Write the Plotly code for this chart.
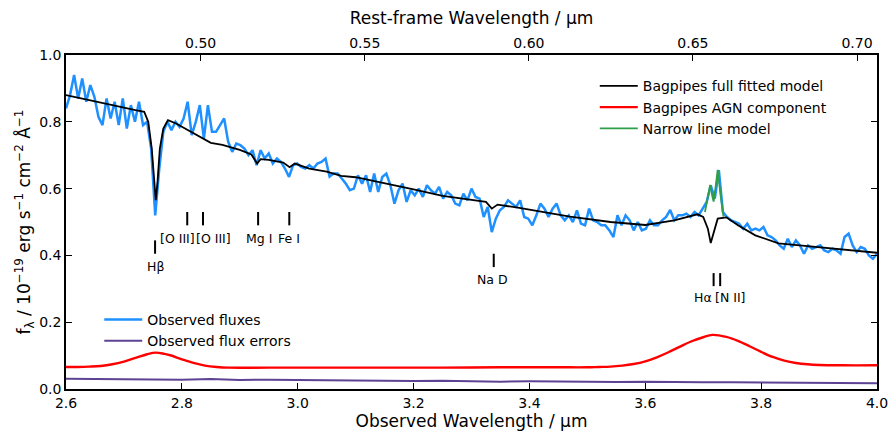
import numpy as np
import plotly.graph_objects as go

# ---------------- data ----------------
redshift_factor = 5.665  # 1 + z

obs_wave = np.round(2.6 + 0.007 * np.arange(201), 3)
obs_flux = [
    0.84, 0.88, 0.94, 0.87, 0.93, 0.86, 0.91, 0.875, 0.815, 0.79,
    0.87, 0.81, 0.86, 0.79, 0.87, 0.78, 0.85, 0.80, 0.86, 0.79,
    0.80, 0.72, 0.52, 0.66, 0.77, 0.80, 0.775, 0.80, 0.785, 0.81,
    0.86, 0.76, 0.80, 0.85, 0.75, 0.85, 0.77, 0.77, 0.79, 0.81,
    0.74, 0.71, 0.735, 0.73, 0.72, 0.70, 0.715, 0.67, 0.715, 0.69,
    0.705, 0.675, 0.69, 0.68, 0.66, 0.635, 0.67, 0.675, 0.665, 0.66,
    0.67, 0.66, 0.675, 0.68, 0.69, 0.636, 0.645, 0.645, 0.63, 0.615,
    0.595, 0.60, 0.64, 0.615, 0.64, 0.59, 0.645, 0.59, 0.635, 0.645,
    0.61, 0.555, 0.595, 0.615, 0.56, 0.595, 0.58, 0.60, 0.575, 0.61,
    0.595, 0.585, 0.605, 0.57, 0.59, 0.58, 0.555, 0.55, 0.585, 0.565,
    0.60, 0.575, 0.57, 0.515, 0.545, 0.47, 0.51, 0.535, 0.545, 0.565,
    0.555, 0.545, 0.565, 0.515, 0.51, 0.49, 0.52, 0.555, 0.54, 0.515,
    0.54, 0.555, 0.52, 0.505, 0.52, 0.50, 0.535, 0.495, 0.49, 0.54,
    0.505, 0.50, 0.49, 0.49, 0.475, 0.455, 0.52, 0.49, 0.52, 0.505,
    0.475, 0.50, 0.475, 0.48, 0.505, 0.49, 0.49, 0.505, 0.515, 0.536,
    0.505, 0.52, 0.52, 0.525, 0.515, 0.53, 0.52, 0.54, 0.56, 0.61,
    0.57, 0.655, 0.53, 0.515, 0.505, 0.50, 0.495, 0.48, 0.495, 0.475,
    0.48, 0.475, 0.485, 0.46, 0.455, 0.445, 0.43, 0.42, 0.45, 0.425,
    0.445, 0.43, 0.405, 0.43, 0.42, 0.425, 0.43, 0.415, 0.41, 0.42,
    0.415, 0.405, 0.455, 0.465, 0.43, 0.41, 0.425, 0.42, 0.40, 0.39,
    0.405,
]

err_wave = np.round(2.6 + 0.05 * np.arange(29), 3)
err_flux = [0.031, 0.030, 0.031, 0.029, 0.028, 0.030, 0.027, 0.028, 0.027, 0.026,
            0.026, 0.025, 0.024, 0.025, 0.023, 0.022, 0.023, 0.022, 0.021, 0.021,
            0.022, 0.020, 0.020, 0.020, 0.019, 0.020, 0.018, 0.018, 0.017]

model_wave = [2.600, 2.640, 2.680, 2.720, 2.735, 2.742, 2.748, 2.752, 2.755, 2.758,
              2.762, 2.768, 2.776, 2.790, 2.810, 2.830, 2.850, 2.870, 2.900, 2.920,
              2.930, 2.936, 2.950, 2.975, 2.986, 2.995, 3.020, 3.050, 3.075, 3.100,
              3.150, 3.200, 3.250, 3.300, 3.325, 3.335, 3.345, 3.380, 3.420, 3.470,
              3.540, 3.600, 3.650, 3.690, 3.700, 3.708, 3.713, 3.718, 3.725, 3.740,
              3.760, 3.790, 3.830, 3.880, 3.930, 4.000]
model_flux = [0.880, 0.865, 0.848, 0.835, 0.830, 0.800, 0.720, 0.620, 0.565, 0.620,
              0.720, 0.780, 0.805, 0.795, 0.775, 0.755, 0.737, 0.731, 0.716, 0.702,
              0.675, 0.688, 0.686, 0.678, 0.664, 0.675, 0.660, 0.651, 0.638, 0.634,
              0.617, 0.598, 0.578, 0.567, 0.560, 0.540, 0.552, 0.543, 0.530, 0.516,
              0.500, 0.491, 0.505, 0.523, 0.515, 0.480, 0.437, 0.470, 0.510, 0.514,
              0.490, 0.460, 0.436, 0.428, 0.420, 0.408]

agn_wave = [2.60, 2.62, 2.64, 2.66, 2.68, 2.70, 2.72, 2.74, 2.755, 2.77, 2.78, 2.80,
            2.82, 2.84, 2.86, 2.88, 2.95, 3.05, 3.15, 3.25, 3.35, 3.45, 3.50, 3.52,
            3.54, 3.56, 3.58, 3.60, 3.62, 3.64, 3.66, 3.68, 3.70, 3.716, 3.74, 3.76,
            3.78, 3.80, 3.82, 3.84, 3.86, 3.88, 3.90, 3.94, 4.00]
agn_flux = [0.066, 0.066, 0.067, 0.069, 0.074, 0.082, 0.093, 0.104, 0.109, 0.105, 0.101, 0.089,
            0.078, 0.070, 0.066, 0.064, 0.064, 0.064, 0.064, 0.064, 0.065, 0.065, 0.065, 0.066,
            0.067, 0.070, 0.075, 0.083, 0.095, 0.110, 0.127, 0.143, 0.155, 0.162, 0.156, 0.144,
            0.128, 0.111, 0.096, 0.085, 0.078, 0.074, 0.072, 0.071, 0.071]

narrow_wave = [3.703, 3.707, 3.712, 3.716, 3.718, 3.721, 3.725, 3.730, 3.735]
narrow_flux = [0.530, 0.565, 0.611, 0.575, 0.561, 0.600, 0.656, 0.580, 0.516]

# spectral line markers
line_labels = ["Hβ", "[O III]", "[O III]", "Mg I", "Fe I", "Na D", "Hα", "[N II]"]
line_rest = [0.4861, 0.4959, 0.5007, 0.5175, 0.5270, 0.5893, 0.6563, 0.6583]
line_tick_lo = [0.405, 0.49, 0.49, 0.49, 0.49, 0.365, 0.308, 0.308]
line_tick_hi = [0.445, 0.53, 0.53, 0.53, 0.53, 0.405, 0.347, 0.347]
line_text_x = [2.754, 2.793, 2.855, 2.933, 2.985, 3.336, 3.700, 3.746]
line_text_y = [0.366, 0.452, 0.452, 0.452, 0.452, 0.327, 0.274, 0.274]

top_ticks = [0.50, 0.55, 0.60, 0.65, 0.70]

# ---------------- figure ----------------
FONT = "DejaVu Sans"
fig = go.Figure()

fig.add_trace(go.Scatter(x=obs_wave, y=obs_flux, mode="lines", name="Observed fluxes",
                         line=dict(color="#1E90FF", width=2.5), legend="legend2"))
fig.add_trace(go.Scatter(x=err_wave, y=err_flux, mode="lines", name="Observed flux errors",
                         line=dict(color="#5E4394", width=2), legend="legend2"))
fig.add_trace(go.Scatter(x=model_wave, y=model_flux, mode="lines", name="Bagpipes full fitted model",
                         line=dict(color="black", width=1.8), legend="legend"))
fig.add_trace(go.Scatter(x=agn_wave, y=agn_flux, mode="lines", name="Bagpipes AGN component",
                         line=dict(color="#FF0000", width=2.4, shape="spline"), legend="legend"))
fig.add_trace(go.Scatter(x=narrow_wave, y=narrow_flux, mode="lines", name="Narrow line model",
                         line=dict(color="#2E9E4A", width=1.8), legend="legend"))

# invisible helper trace so the top (rest-frame) axis is drawn
x2_range = [2.6 / redshift_factor, 4.0 / redshift_factor]
fig.add_trace(go.Scatter(x=x2_range, y=[0.5, 0.5], xaxis="x2", mode="lines",
                         line=dict(width=0, color="rgba(0,0,0,0)"), showlegend=False,
                         hoverinfo="skip"))

for lab, rest, lo, hi, tx, ty in zip(line_labels, line_rest, line_tick_lo, line_tick_hi,
                                      line_text_x, line_text_y):
    xo = rest * redshift_factor
    fig.add_shape(type="line", x0=xo, x1=xo, y0=lo, y1=hi, xref="x", yref="y",
                  line=dict(color="black", width=2))
    fig.add_annotation(x=tx, y=ty, text=lab, showarrow=False, xref="x", yref="y",
                       font=dict(family=FONT, size=12.5, color="black"))

axis_common = dict(showline=True, linecolor="black", linewidth=1.5, ticks="inside",
                   ticklen=6, tickcolor="black", tickwidth=1.2, showgrid=False,
                   zeroline=False, automargin=False,
                   tickfont=dict(family=FONT, size=14, color="black"))

fig.update_layout(
    width=894, height=431,
    margin=dict(l=66, r=17, t=55, b=42, autoexpand=False),
    plot_bgcolor="white", paper_bgcolor="white",
    font=dict(family=FONT, color="black"),
    xaxis=dict(range=[2.6, 4.0], dtick=0.2, tick0=2.6, tickformat=".1f", mirror=True,
               title=dict(text="Observed Wavelength / µm", font=dict(family=FONT, size=17), standoff=4),
               **axis_common),
    xaxis2=dict(range=x2_range, overlaying="x", side="top", tickvals=top_ticks,
                tickformat=".2f", anchor="y",
                title=dict(text="Rest-frame Wavelength / µm", font=dict(family=FONT, size=17), standoff=6),
                **axis_common),
    yaxis=dict(range=[0, 1.0], dtick=0.2, tickformat=".1f", mirror="ticks",
               title=dict(text="f<sub>λ</sub> / 10<sup>−19</sup> erg s<sup>−1</sup> cm<sup>−2</sup> Å<sup>−1</sup>",
                          font=dict(family=FONT, size=17), standoff=4),
               **axis_common),
    legend=dict(x=0.652, y=0.954, xanchor="left", yanchor="top", bgcolor="rgba(0,0,0,0)",
                font=dict(family=FONT, size=14), itemwidth=38, tracegroupgap=0),
    legend2=dict(x=0.041, y=0.255, xanchor="left", yanchor="top", bgcolor="rgba(0,0,0,0)",
                 font=dict(family=FONT, size=14), itemwidth=38, tracegroupgap=0),
    showlegend=True,
)

fig.write_html("out.html", config={"displayModeBar": False},
               post_script="document.body.style.margin='0';")
